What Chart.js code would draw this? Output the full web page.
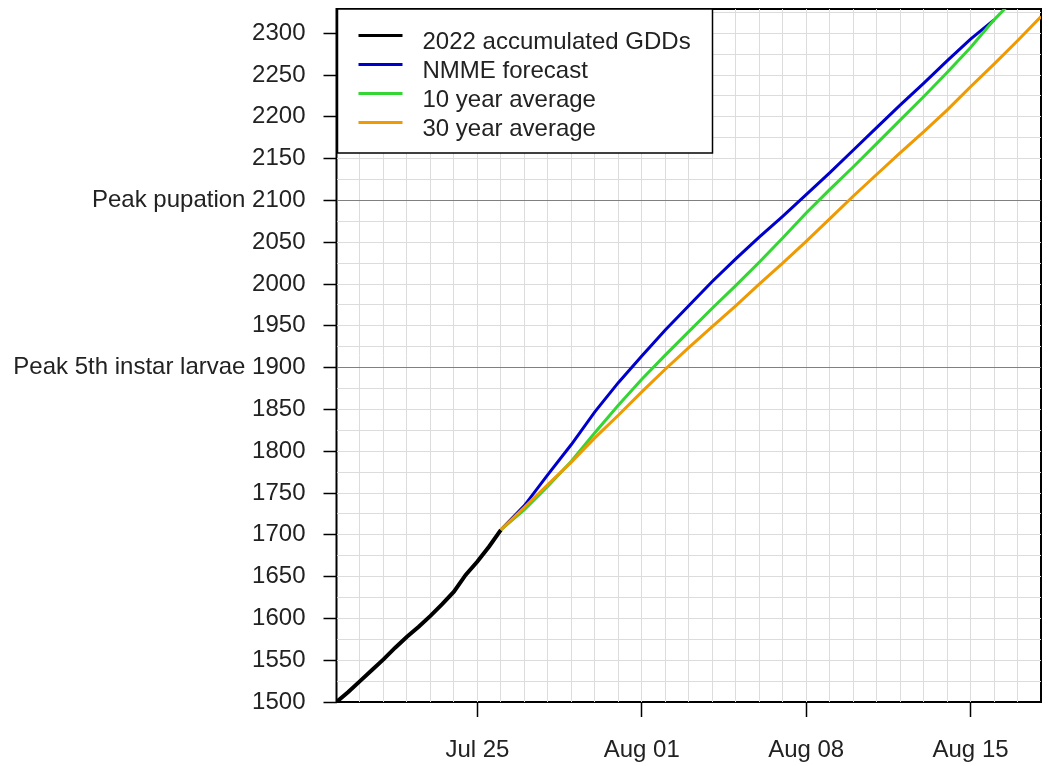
<!DOCTYPE html>
<html>
<head>
<meta charset="utf-8">
<script src="https://cdn.jsdelivr.net/npm/chart.js@4.4.0/dist/chart.umd.min.js"></script>
<style>
	html, body { margin: 0; padding: 0; background: #fff; }
</style>
</head>
<body>
<canvas id="chart" width="1049" height="766"></canvas>
<script>
// day of year 2022 (Jul 25 = 206)
const obsDays = [200, 200.5, 201, 201.5, 202, 202.5, 203, 203.5, 204, 204.5, 205, 205.5, 206, 206.5, 207];
const obsGDD = [1500, 1512, 1525, 1538, 1551, 1565, 1578, 1590, 1603, 1617, 1632, 1652, 1668, 1686, 1706];

const nmmeDays = [207, 208, 209, 210, 211, 212, 213, 214, 215, 216, 217, 218, 219, 220, 221, 222, 223, 224, 225, 226, 227, 228];
const nmmeGDD = [1706, 1735, 1772, 1808, 1847, 1882, 1914, 1945, 1974, 2003, 2030, 2056, 2081, 2107, 2133, 2160, 2187, 2214, 2240, 2267, 2293, 2316];

const avg10Days = [207, 208, 209, 210, 211, 212, 213, 214, 215, 216, 217, 218, 219, 220, 221, 222, 223, 224, 225, 226, 227, 228, 229];
const avg10GDD = [1706, 1730, 1758, 1788, 1822, 1855, 1886, 1915, 1943, 1971, 1998, 2026, 2055, 2085, 2113, 2140, 2168, 2196, 2224, 2253, 2283, 2316, 2345];

const avg30Days = [207, 208, 209, 210, 211, 212, 213, 214, 215, 216, 217, 218, 219, 220, 221, 222, 223, 224, 225, 226, 227, 228, 229, 230];
const avg30GDD = [1706, 1733, 1760, 1787, 1816, 1843, 1871, 1898, 1924, 1949, 1974, 2000, 2025, 2051, 2078, 2105, 2131, 2157, 2182, 2208, 2236, 2263, 2291, 2320];

const seriesNames = ['2022 accumulated GDDs', 'NMME forecast', '10 year average', '30 year average'];

const xTickDays = [206, 213, 220, 227];
const xTickLabels = ['Jul 25', 'Aug 01', 'Aug 08', 'Aug 15'];

const peakValues = [1900, 2100];
const peakNames = ['Peak 5th instar larvae', 'Peak pupation'];

const FONT = "'Liberation Sans', Arial, sans-serif";

function pts(xs, ys) {
	return xs.map((x, i) => ({ x: x, y: ys[i] }));
}

// black box drawn first so the grid lines cross it like in the original
const boxUnder = {
	id: 'boxUnder',
	beforeDraw(chart) {
		const a = chart.chartArea;
		const c = chart.ctx;
		c.save();
		c.strokeStyle = '#000';
		c.lineWidth = 2;
		c.strokeRect(a.left, a.top, a.right - a.left, a.bottom - a.top);
		c.restore();
	}
};

const boxLegend = {
	id: 'boxLegend',
	afterDraw(chart) {
		const c = chart.ctx;
		const a = chart.chartArea;
		const x0 = a.left + 1, y0 = a.top, w = 375, h = 144;
		c.save();
		c.fillStyle = '#fff';
		c.fillRect(x0, y0, w, h);
		c.strokeStyle = '#000';
		c.lineWidth = 1.5;
		c.strokeRect(x0, y0, w, h);
		c.font = '24px ' + FONT;
		c.textBaseline = 'alphabetic';
		c.textAlign = 'left';
		chart.data.datasets.forEach((ds, i) => {
			const ly = y0 + 26.5 + i * 29;
			c.strokeStyle = ds.borderColor;
			c.lineWidth = 3;
			c.beginPath();
			c.moveTo(x0 + 21, ly);
			c.lineTo(x0 + 65, ly);
			c.stroke();
			c.fillStyle = '#222';
			c.fillText(ds.label, x0 + 85, y0 + 39.5 + i * 29);
		});
		c.restore();
	}
};

const config = {
	type: 'line',
	data: {
		datasets: [
			{ label: seriesNames[0], data: pts(obsDays, obsGDD), borderColor: '#000000', borderWidth: 4, order: 4 },
			{ label: seriesNames[1], data: pts(nmmeDays, nmmeGDD), borderColor: '#0000CD', borderWidth: 3, order: 3 },
			{ label: seriesNames[2], data: pts(avg10Days, avg10GDD), borderColor: '#33D633', borderWidth: 3, order: 2 },
			{ label: seriesNames[3], data: pts(avg30Days, avg30GDD), borderColor: '#EE9A00', borderWidth: 3, order: 1 }
		]
	},
	options: {
		responsive: false,
		animation: false,
		layout: { padding: { top: 9, right: 8, left: 0, bottom: 0 } },
		elements: { point: { radius: 0 }, line: { tension: 0 } },
		datasets: { line: { clip: 0 } },
		plugins: {
			legend: { display: false },
			tooltip: { enabled: false }
		},
		scales: {
			x: {
				type: 'linear',
				min: 200,
				max: 230,
				border: { display: false },
				grid: {
					color: (ctx) => (ctx.tick && (ctx.tick.value === 200 || ctx.tick.value === 230)) ? 'rgba(0,0,0,0)' : '#dcdcdc',
					lineWidth: 1,
					tickLength: 15,
					tickWidth: 1.5,
					tickColor: (ctx) => (ctx.tick && xTickDays.includes(ctx.tick.value)) ? '#000' : 'rgba(0,0,0,0)'
				},
				ticks: {
					stepSize: 1,
					includeBounds: false,
					autoSkip: false,
					maxRotation: 0,
					padding: 19,
					color: '#222',
					font: { family: FONT, size: 24 },
					callback: (v) => {
						const i = xTickDays.indexOf(v);
						return i >= 0 ? xTickLabels[i] : '';
					}
				},
				afterFit: (scale) => {
					scale.height = 64;
					scale.paddingLeft = 0;
					scale.paddingRight = 0;
				}
			},
			y: {
				min: 1500,
				max: 2329,
				border: { display: false },
				grid: {
					color: (ctx) => {
						const v = ctx.tick ? ctx.tick.value : null;
						if (v === 1500) return 'rgba(0,0,0,0)';
						if (peakValues.includes(v)) return '#808080';
						return '#dcdcdc';
					},
					lineWidth: 1,
					tickLength: 13,
					tickWidth: 1.5,
					tickColor: (ctx) => (ctx.tick && ctx.tick.value % 50 === 0) ? '#000' : 'rgba(0,0,0,0)'
				},
				ticks: {
					stepSize: 25,
					includeBounds: false,
					autoSkip: false,
					padding: 18,
					color: '#222',
					font: { family: FONT, size: 24 },
					callback: (v) => {
						if (v % 50 !== 0) return '';
						const p = peakValues.indexOf(v);
						return p >= 0 ? peakNames[p] + ' ' + v : String(v);
					}
				},
				afterFit: (scale) => {
					scale.width = 336.5;
					scale.paddingTop = 0;
					scale.paddingBottom = 0;
				}
			}
		}
	},
	plugins: [boxUnder, boxLegend]
};

window.addEventListener('load', () => {
	const ctx = document.getElementById('chart').getContext('2d');
	new Chart(ctx, config);
});
</script>
</body>
</html>
